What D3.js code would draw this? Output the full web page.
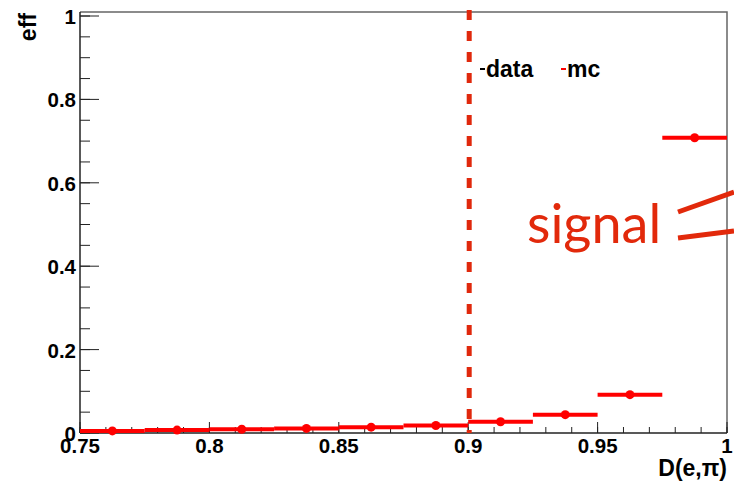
<!DOCTYPE html>
<html lang="en">
  <head>
    <meta charset="UTF-8" />
    <title>eff vs D(e,pi)</title>
    <style>
      body { margin: 0; background: #fff; }
      svg text { font-family: 'Liberation Sans', Arial, sans-serif; font-weight: bold; }
    </style>
  </head>
  <body>
    <div id="chart"></div>
    <script src="https://d3js.org/d3.v7.min.js"></script>
    <script>
      // bin centres (width 0.025) and efficiency per bin
      const binCenters = [0.7625, 0.7875, 0.8125, 0.8375, 0.8625, 0.8875, 0.9125, 0.9375, 0.9625, 0.9875];
      const effValues = [0.005, 0.007, 0.009, 0.011, 0.014, 0.018, 0.027, 0.044, 0.092, 0.708];
      const binHalfWidth = 0.0125;
      const xTicks = [0.75, 0.8, 0.85, 0.9, 0.95, 1];
      const yTicks = [0, 0.2, 0.4, 0.6, 0.8, 1];
      const cutValue = 0.9;

      const W = 734, H = 484;
      const svg = d3.select('#chart').append('svg').attr('width', W).attr('height', H);

      const x = d3.scaleLinear().domain([0.75, 1]).range([80, 727]);
      const y = d3.scaleLinear().domain([0, 1]).range([433, 16]);
      const frameTop = 12;

      // frame
      svg.append('path')
        .attr('d', `M${x(0.75)},${frameTop}H${x(1)}V${y(0)}`)
        .attr('fill', 'none').attr('stroke', '#666').attr('stroke-width', 1.5);

      // x axis ticks (pointing up into the frame)
      const xMinor = d3.range(0.75, 1.0001, 0.01);
      svg.append('g').selectAll('line').data(xMinor).join('line')
        .attr('x1', d => x(d)).attr('x2', d => x(d))
        .attr('y1', y(0)).attr('y2', y(0) - 6)
        .attr('stroke', '#222').attr('stroke-width', 1);
      svg.append('g').selectAll('line').data(xTicks).join('line')
        .attr('x1', d => x(d)).attr('x2', d => x(d))
        .attr('y1', y(0)).attr('y2', y(0) - 11)
        .attr('stroke', '#222').attr('stroke-width', 1);
      svg.append('g').selectAll('text').data(xTicks).join('text')
        .attr('x', d => x(d)).attr('y', 453)
        .attr('text-anchor', 'middle').attr('font-size', 20.5)
        .text(d => d3.format('')(d));

      // y axis ticks (pointing right into the frame)
      const yMinor = d3.range(0, 1.0001, 0.05);
      svg.append('g').selectAll('line').data(yMinor).join('line')
        .attr('x1', x(0.75)).attr('x2', x(0.75) + 10)
        .attr('y1', d => y(d)).attr('y2', d => y(d))
        .attr('stroke', '#222').attr('stroke-width', 1);
      svg.append('g').selectAll('line').data(yTicks).join('line')
        .attr('x1', x(0.75)).attr('x2', x(0.75) + 19)
        .attr('y1', d => y(d)).attr('y2', d => y(d))
        .attr('stroke', '#222').attr('stroke-width', 1);
      svg.append('g').selectAll('text').data(yTicks).join('text')
        .attr('x', 76).attr('y', d => y(d) + 8)
        .attr('text-anchor', 'end').attr('font-size', 20.5)
        .text(d => d3.format('')(d));

      // axis lines
      svg.append('line')
        .attr('x1', x(0.75)).attr('x2', x(0.75)).attr('y1', frameTop).attr('y2', y(0))
        .attr('stroke', '#222').attr('stroke-width', 1.5);
      svg.append('line')
        .attr('x1', x(0.75)).attr('x2', x(1)).attr('y1', y(0)).attr('y2', y(0))
        .attr('stroke', '#222').attr('stroke-width', 1.5);

      // axis titles
      svg.append('text')
        .attr('transform', 'translate(36,13) rotate(-90)')
        .attr('text-anchor', 'end').attr('font-size', 23)
        .text('eff');
      svg.append('text')
        .attr('x', 727).attr('y', 476)
        .attr('text-anchor', 'end').attr('font-size', 23)
        .text('D(e,\u03c0)');

      // data: horizontal bin bars + markers
      const red = '#ff0000';
      svg.append('g').selectAll('line').data(binCenters).join('line')
        .attr('x1', d => x(d - binHalfWidth)).attr('x2', d => x(d + binHalfWidth))
        .attr('y1', (d, i) => y(effValues[i])).attr('y2', (d, i) => y(effValues[i]))
        .attr('stroke', red).attr('stroke-width', 4);
      svg.append('g').selectAll('circle').data(binCenters).join('circle')
        .attr('cx', d => x(d)).attr('cy', (d, i) => y(effValues[i]))
        .attr('r', 4.5).attr('fill', red);

      // cut line
      svg.append('line')
        .attr('x1', x(cutValue) + 1).attr('x2', x(cutValue) + 1)
        .attr('y1', 10).attr('y2', y(0))
        .attr('stroke', '#e0280c').attr('stroke-width', 5)
        .attr('stroke-dasharray', '10,11');

      // legend
      const leg = svg.append('g');
      leg.append('line').attr('x1', 480).attr('x2', 485).attr('y1', 69).attr('y2', 69)
        .attr('stroke', '#000').attr('stroke-width', 2);
      leg.append('text').attr('x', 486).attr('y', 77).attr('font-size', 23).text('data');
      leg.append('line').attr('x1', 561).attr('x2', 566).attr('y1', 69).attr('y2', 69)
        .attr('stroke', red).attr('stroke-width', 2);
      leg.append('text').attr('x', 567).attr('y', 77).attr('font-size', 23).text('mc');

      // annotation
      const ann = '#e2290b';
      svg.append('text')
        .attr('x', 527).attr('y', 243)
        .style('font-family', "Lato, 'Open Sans', sans-serif").style('font-weight', 'normal')
        .attr('font-size', 54).attr('fill', ann)
        .text('signal');
      svg.append('line').attr('x1', 678).attr('y1', 212).attr('x2', 734).attr('y2', 192)
        .attr('stroke', ann).attr('stroke-width', 5);
      svg.append('line').attr('x1', 678).attr('y1', 238).attr('x2', 734).attr('y2', 231)
        .attr('stroke', ann).attr('stroke-width', 5);
    </script>
  </body>
</html>
